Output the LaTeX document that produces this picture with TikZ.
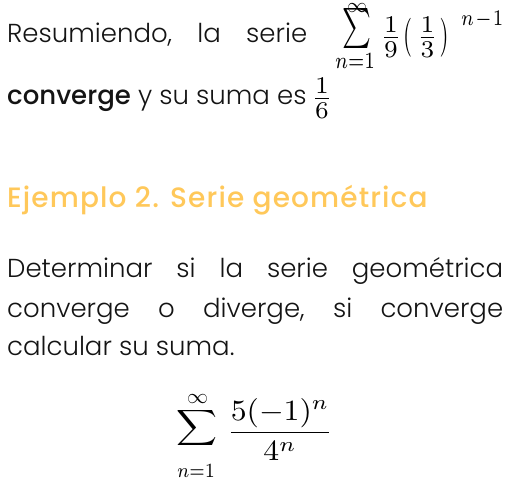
\RequirePackage{fix-cm}
\documentclass[tikz,border=0pt]{standalone}
\usepackage{amsmath}
\usepackage{graphicx}
\usepackage[no-math]{fontspec}
\setmainfont{Poppins}[UprightFont=* Light, BoldFont=* Medium]
\newfontfamily\headfont{Poppins}[UprightFont=* Medium, LetterSpace=4]
\newcommand{\fitmath}[3]{\resizebox*{#1}{#2}{$#3$}}
\newcommand{\fitfrac}[3]{\resizebox{#1}{#2}{$#3$}}
\definecolor{headc}{RGB}{255,200,90}
\definecolor{txtc}{RGB}{20,20,20}
\begin{document}
\begin{tikzpicture}[x=1pt,y=-1pt,
  txt/.style={anchor=base west, inner sep=0pt, text=txtc, font=\fontsize{26}{32}\selectfont},
  head/.style={anchor=base west, inner sep=0pt, text=headc, font=\fontsize{28}{32}\headfont},
  mth/.style={inner sep=0pt, text=black, anchor=center}]
\useasboundingbox (0,0) rectangle (509,490);
% line 1
\node[txt] (l1) at (7,42) {\hbox to 300pt{Resumiendo,\hfill la\hfill serie}};
\node[mth] (s1) at (356.5,28.5) {\fitmath{29pt}{40pt}{\textstyle\sum}};
\node[mth] (s1top) at (357,7.5) {\fitmath{20pt}{9pt}{\infty}};
\node[mth] (s1bot) at (355,60.5) {\fitmath{40pt}{15pt}{\scriptstyle n=1}};
\node[mth] (f9) at (391,37.5) {\fitfrac{!}{29pt}{\frac{1}{9}}};
\node[mth] (lp) at (407.5,37.5) {\fitmath{9pt}{39pt}{(}};
\node[mth] (f3) at (427.5,37.5) {\fitfrac{!}{29pt}{\frac{1}{3}}};
\node[mth] (rp) at (444,37.5) {\fitmath{9pt}{39pt}{)}};
\node[mth, anchor=base west] (ex) at (461,25) {\fitmath{42pt}{17pt}{\scriptstyle n\mkern1mu-\mkern1mu1}};
% line 2
\node[txt] (l2) at (7,104) {{\bfseries converge} y su suma es};
\node[mth] (f6) at (322,98.5) {\fitfrac{!}{29pt}{\frac{1}{6}}};
% heading
\node[head] (h) at (7,207) {Ejemplo 2. Serie geométrica};
% paragraph
\node[txt] (p1) at (7,277) {\hbox to 496pt{Determinar\hfill si\hfill la\hfill serie\hfill geométrica}};
\node[txt] (p2) at (7,317) {\hbox to 496pt{converge\hfill o\hfill diverge,\hfill si\hfill converge}};
\node[txt] (p3) at (7,355) {calcular su suma.};
% bottom formula
\node[mth] (s2) at (197.5,428) {\fitmath{41pt}{40pt}{\displaystyle\sum}};
\node[mth] (s2top) at (197.5,399) {\fitmath{21pt}{9pt}{\infty}};
\node[mth] (s2bot) at (196,471) {\fitmath{38pt}{13pt}{\scriptstyle n=1}};
\node[mth] (fr) at (280,429) {\fitmath{106pt}{62pt}{\displaystyle\frac{5(-1)^n}{4^n}}};
\end{tikzpicture}
\end{document}
